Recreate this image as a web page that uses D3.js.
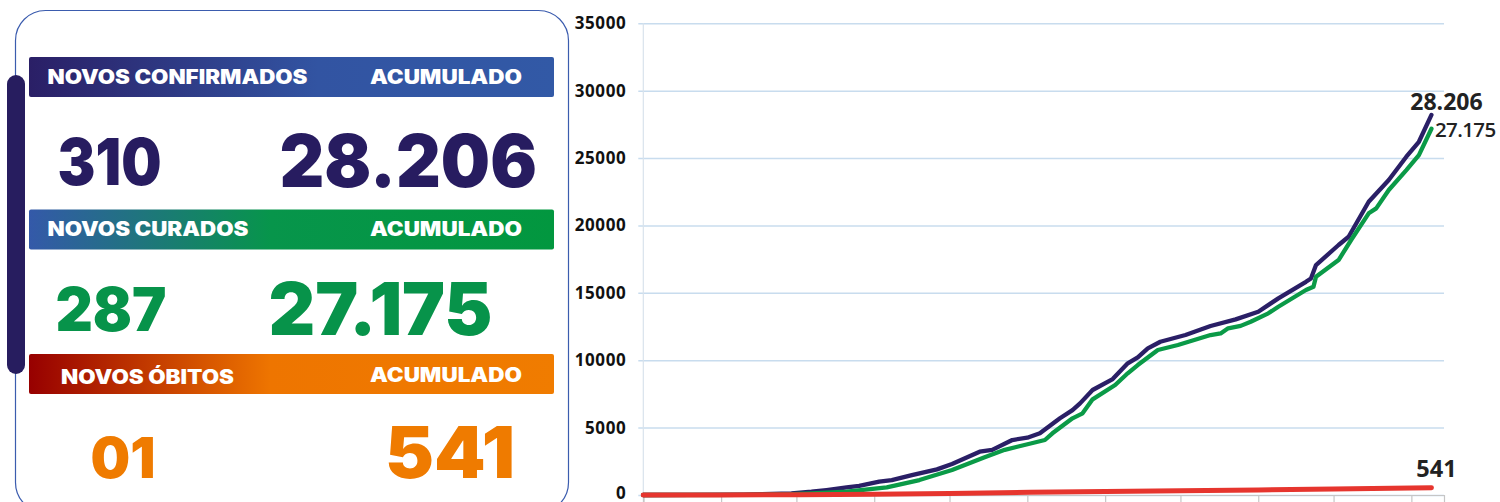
<!DOCTYPE html>
<html>
<head>
<meta charset="utf-8">
<script src="https://cdn.jsdelivr.net/npm/d3@7"></script>
<style>
  html, body { margin: 0; padding: 0; background: #fff; }
  svg { display: block; }
</style>
</head>
<body>
<svg id="chart" width="1500" height="502"></svg>
<script>
// ---------------- DATA ----------------
const confirmedData = [
  ["2020-03-01", 0], ["2020-03-20", 5], ["2020-04-10", 30], ["2020-04-29", 125],
  ["2020-05-07", 245], ["2020-05-13", 370], ["2020-05-21", 570], ["2020-05-26", 670],
  ["2020-06-03", 990], ["2020-06-08", 1110], ["2020-06-16", 1480], ["2020-06-26", 1900],
  ["2020-07-02", 2300], ["2020-07-13", 3210], ["2020-07-18", 3350], ["2020-07-26", 4080],
  ["2020-08-01", 4250], ["2020-08-06", 4580], ["2020-08-14", 5690], ["2020-08-19", 6300],
  ["2020-08-22", 6800], ["2020-08-27", 7790], ["2020-09-04", 8600], ["2020-09-10", 9770],
  ["2020-09-14", 10210], ["2020-09-18", 10880], ["2020-09-23", 11370], ["2020-10-03", 11870],
  ["2020-10-13", 12540], ["2020-10-23", 13030], ["2020-11-01", 13600], ["2020-11-06", 14220],
  ["2020-11-09", 14590], ["2020-11-20", 15820], ["2020-11-22", 16070], ["2020-11-24", 17060],
  ["2020-12-03", 18550], ["2020-12-07", 19160], ["2020-12-15", 21760], ["2020-12-23", 23370],
  ["2020-12-30", 25100], ["2021-01-04", 26210], ["2021-01-09", 28206]
];
const curedData = [
  ["2020-03-01", 0], ["2020-04-10", 10], ["2020-04-29", 60], ["2020-05-07", 125],
  ["2020-05-21", 245], ["2020-06-06", 570], ["2020-06-19", 1110], ["2020-07-02", 1850],
  ["2020-07-15", 2800], ["2020-07-23", 3350], ["2020-07-28", 3580], ["2020-08-08", 4080],
  ["2020-08-11", 4580], ["2020-08-19", 5690], ["2020-08-23", 6060], ["2020-08-27", 7100],
  ["2020-09-05", 8160], ["2020-09-10", 9030], ["2020-09-14", 9640], ["2020-09-22", 10760],
  ["2020-09-30", 11130], ["2020-10-13", 11870], ["2020-10-17", 11990], ["2020-10-20", 12370],
  ["2020-10-25", 12550], ["2020-10-29", 12860], ["2020-11-05", 13480], ["2020-11-09", 13970],
  ["2020-11-20", 15210], ["2020-11-23", 15450], ["2020-11-24", 16190], ["2020-12-03", 17430],
  ["2020-12-08", 18920], ["2020-12-15", 20900], ["2020-12-18", 21270], ["2020-12-23", 22630],
  ["2020-12-30", 24110], ["2021-01-04", 25220], ["2021-01-09", 27175]
];
const deathsData = [
  ["2020-03-01", 0], ["2020-03-31", 5], ["2020-05-02", 20], ["2020-06-01", 60],
  ["2020-07-01", 120], ["2020-08-02", 200], ["2020-09-01", 260], ["2020-10-01", 320],
  ["2020-11-01", 380], ["2020-12-01", 440], ["2021-01-01", 515], ["2021-01-09", 541]
];
const yTicks = [0, 5000, 10000, 15000, 20000, 25000, 30000, 35000];
const xDomain = ["2020-03-01", "2021-01-14"];
const monthTicks = ["2020-03-01","2020-04-01","2020-05-01","2020-06-01","2020-07-01","2020-08-01",
  "2020-09-01","2020-10-01","2020-11-01","2020-12-01","2021-01-01"];
const endLabels = ["28.206", "27.175", "541"];

const panelTitles = [
  { left: "NOVOS CONFIRMADOS", right: "ACUMULADO" },
  { left: "NOVOS CURADOS", right: "ACUMULADO" },
  { left: "NOVOS ÓBITOS", right: "ACUMULADO" }
];
const panelNewValues = ["310", "287", "01"];
const panelTotalValues = ["28.206", "27.175", "541"];

// ---------------- SETUP ----------------
const svg = d3.select("#chart");
const parse = d3.utcParse("%Y-%m-%d");
const toPts = arr => arr.map(d => ({ date: parse(d[0]), value: d[1] }));

const FONT = "Inter, 'Open Sans', 'Noto Sans', sans-serif";
const NAVY = "#271c60", GREEN = "#07934a", ORANGE = "#ef7b00";

// ---------------- LEFT PANEL ----------------
const defs = svg.append("defs");
function grad(id, stops) {
  const g = defs.append("linearGradient").attr("id", id).attr("x1", "0%").attr("x2", "100%").attr("y1", "0%").attr("y2", "0%");
  stops.forEach(s => g.append("stop").attr("offset", s[0]).attr("stop-color", s[1]));
}
grad("g1", [["0%", "#2a1f66"], ["55%", "#3254a2"], ["100%", "#3259a6"]]);
grad("g2", [["0%", "#3459a9"], ["46%", "#07954b"], ["100%", "#02973f"]]);
grad("g3", [["0%", "#970000"], ["46%", "#ee7500"], ["100%", "#f07c00"]]);

const panel = svg.append("g");
panel.append("rect")
  .attr("x", 15.5).attr("y", 10.5).attr("width", 553).attr("height", 502)
  .attr("rx", 30).attr("ry", 30)
  .attr("fill", "none").attr("stroke", "#3b5cae").attr("stroke-width", 1.2);
panel.append("rect")
  .attr("x", 7).attr("y", 75).attr("width", 18).attr("height", 299)
  .attr("rx", 9).attr("fill", "#271d5f");

const bars = [
  { y: 57, fill: "url(#g1)", lx: 47.5, lw: 260, lb: 83.5, rx: 370, rw: 152, rb: 83.5,
    nx: 57.5, nw: 104, nb: 185, nfs: 65, tx: 279.5, tw: 257.5, tb: 186.5, tfs: 73, color: NAVY },
  { y: 209.5, fill: "url(#g2)", lx: 47.5, lw: 201, lb: 236, rx: 370, rw: 152, rb: 236,
    nx: 55.5, nw: 111, nb: 330.5, nfs: 60, tx: 268.5, tw: 224, tb: 335, tfs: 73, color: GREEN },
  { y: 354, fill: "url(#g3)", lx: 61, lw: 173, lb: 384.3, rx: 370, rw: 152, rb: 381.7,
    nx: 90.5, nw: 65, nb: 478.3, nfs: 57, tx: 385, tw: 130, tb: 478.3, tfs: 71, color: ORANGE }
];
bars.forEach((b, i) => {
  panel.append("rect").attr("x", 29).attr("y", b.y).attr("width", 525).attr("height", 40)
    .attr("rx", 2).attr("fill", b.fill);
  panel.append("text").attr("x", b.lx).attr("y", b.lb)
    .attr("textLength", b.lw).attr("lengthAdjust", "spacingAndGlyphs")
    .attr("font-family", FONT).attr("font-weight", 900).attr("font-size", 19.5)
    .attr("fill", "#fff").text(panelTitles[i].left);
  panel.append("text").attr("x", b.rx).attr("y", b.rb)
    .attr("textLength", b.rw).attr("lengthAdjust", "spacingAndGlyphs")
    .attr("font-family", FONT).attr("font-weight", 900).attr("font-size", 19.5)
    .attr("fill", "#fff").text(panelTitles[i].right);
  panel.append("text").attr("x", b.nx).attr("y", b.nb)
    .attr("textLength", b.nw).attr("lengthAdjust", "spacingAndGlyphs")
    .attr("font-family", FONT).attr("font-weight", 900).attr("font-size", b.nfs)
    .attr("fill", b.color).text(panelNewValues[i]);
  panel.append("text").attr("x", b.tx).attr("y", b.tb)
    .attr("textLength", b.tw).attr("lengthAdjust", "spacingAndGlyphs")
    .attr("font-family", FONT).attr("font-weight", 900).attr("font-size", b.tfs)
    .attr("fill", b.color).text(panelTotalValues[i]);
});

// ---------------- CHART ----------------
const x = d3.scaleUtc().domain(xDomain.map(parse)).range([643.3, 1444]);
const y = d3.scaleLinear().domain([0, 35000]).range([495, 23.3]);

const chart = svg.append("g");

// y axis + gridlines
const yAxis = d3.axisLeft(y).tickValues(yTicks).tickSize(-(1444 - 643.3)).tickPadding(17)
  .tickFormat(d3.format("d"));
const gy = chart.append("g").attr("transform", "translate(643.3,0)").call(yAxis);
gy.select(".domain").remove();
gy.selectAll(".tick line").attr("x1", -5).attr("stroke", "#c8dcee").attr("stroke-width", 1.5);
gy.selectAll(".tick text")
  .attr("font-family", "'Open Sans', sans-serif").attr("font-weight", 700)
  .attr("font-size", 17).attr("letter-spacing", 0.6).attr("fill", "#111")
  .attr("dy", d => d === 0 ? "0.2em" : "0.32em");

// vertical axis line
chart.append("line").attr("x1", 643.3).attr("x2", 643.3).attr("y1", y(35000)).attr("y2", 502)
  .attr("stroke", "#d9e3ec").attr("stroke-width", 1.2);

// x axis
const xAxis = d3.axisBottom(x).tickValues(monthTicks.map(parse)).tickSize(7).tickFormat("");
const gx = chart.append("g").attr("transform", "translate(0,495)").call(xAxis);
gx.select(".domain").attr("stroke", "#c6c6c6").attr("stroke-width", 1.2);
gx.selectAll(".tick line").attr("stroke", "#c6c6c6").attr("stroke-width", 1.2);

// lines
const line = d3.line().x(d => x(d.date)).y(d => y(d.value));
const series = [
  { data: toPts(confirmedData), color: "#2a1f66", w: 4.3 },
  { data: toPts(curedData), color: "#0a9a47", w: 4.3 },
  { data: toPts(deathsData), color: "#e6352e", w: 5 }
];
series.forEach(s => {
  chart.append("path").datum(s.data).attr("d", line)
    .attr("fill", "none").attr("stroke", s.color).attr("stroke-width", s.w)
    .attr("stroke-linejoin", "round").attr("stroke-linecap", "round");
});

// end labels
const lastC = series[0].data[series[0].data.length - 1];
const lastR = series[1].data[series[1].data.length - 1];
const lastD = series[2].data[series[2].data.length - 1];
chart.append("text").attr("x", x(lastC.date) + 15).attr("y", y(lastC.value) - 4.5)
  .attr("text-anchor", "middle").attr("font-family", "'Open Sans', sans-serif")
  .attr("font-weight", 700).attr("font-size", 23).attr("fill", "#222").text(endLabels[0]);
chart.append("text").attr("x", x(lastR.date) + 3.5).attr("y", y(lastR.value) + 8.5)
  .attr("font-family", "'Open Sans', sans-serif")
  .attr("font-weight", 600).attr("font-size", 20.5).attr("letter-spacing", -0.6).attr("fill", "#222").text(endLabels[1]);
chart.append("text").attr("x", x(lastD.date) + 5).attr("y", y(lastD.value) - 10.5)
  .attr("text-anchor", "middle").attr("font-family", "'Open Sans', sans-serif")
  .attr("font-weight", 700).attr("font-size", 23.5).attr("fill", "#222").text(endLabels[2]);
</script>
</body>
</html>
